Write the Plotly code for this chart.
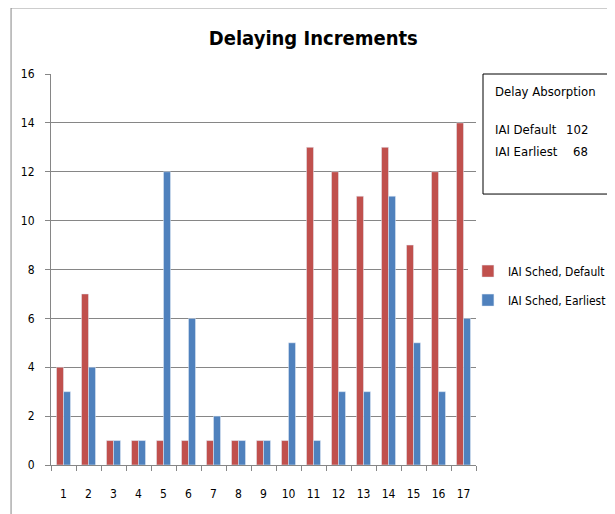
import plotly.graph_objs as go

# chart data
categories = [str(i) for i in range(1, 18)]
sched_default = [4, 7, 1, 1, 1, 1, 1, 1, 1, 1, 13, 12, 11, 13, 9, 12, 14]
sched_earliest = [3, 4, 1, 1, 12, 6, 2, 1, 1, 5, 1, 3, 3, 11, 5, 3, 6]
y_ticks = list(range(0, 17, 2))
total_default = 102
total_earliest = 68

FONT = "DejaVu Sans Condensed, Liberation Sans Narrow, Roboto"

fig = go.Figure()
fig.add_trace(go.Bar(x=categories, y=sched_default, name="IAI Sched, Default",
                     marker_color="#C0504D", legendgroup="d"))
fig.add_trace(go.Bar(x=categories, y=sched_earliest, name="IAI Sched, Earliest",
                     marker_color="#4F81BD", legendgroup="e"))

# page body has an 8px margin, so the figure is sized 607x506
fig.update_layout(
    width=607, height=506,
    margin=dict(l=43, r=139, t=66, b=49, autoexpand=False),
    paper_bgcolor="white", plot_bgcolor="white",
    font=dict(family=FONT, size=12, color="black"),
    title=dict(text="<b>Delaying Increments</b>", x=0.503, xanchor="center",
               y=0.9407, yanchor="middle", font=dict(size=20, family=FONT)),
    barmode="group", bargap=0.44, bargroupgap=0,
    showlegend=True,
    legend=dict(x=0.981, y=0.533, xanchor="left", yanchor="top",
                font=dict(size=12), tracegroupgap=10, itemwidth=30),
)
fig.update_xaxes(showline=True, linecolor="#868686", ticks="outside",
                 tickson="boundaries", ticklen=5, tickcolor="#868686",
                 ticklabelstandoff=18, showgrid=False, tickangle=0,
                 automargin=False)
fig.update_yaxes(range=[0, 16], tickvals=y_ticks, showline=True,
                 linecolor="#868686", ticks="outside", ticklen=5,
                 tickcolor="#868686", gridcolor="#868686", gridwidth=1,
                 ticklabelstandoff=8, zeroline=False, automargin=False)

# summary box
fig.add_shape(type="rect", xref="paper", yref="paper", x0=1.0165, x1=1.313,
              y0=0.693, y1=1.0, line=dict(color="black", width=1),
              fillcolor="white")
box_text = [
    ("Delay Absorption", None, 0.9565),
    ("IAI Default", total_default, 0.859),
    ("IAI Earliest", total_earliest, 0.803),
]
for label, val, ypos in box_text:
    fig.add_annotation(xref="paper", yref="paper", x=1.04, y=ypos, xanchor="left",
                       yanchor="middle", showarrow=False, text=label,
                       font=dict(size=13))
    if val is not None:
        fig.add_annotation(xref="paper", yref="paper", x=1.268, y=ypos,
                           xanchor="right", yanchor="middle", showarrow=False,
                           text=str(val), font=dict(size=13))

# outer frame lines
fig.add_shape(type="line", xref="paper", yref="paper", x0=-0.094, x1=-0.094,
              y0=-0.13, y1=1.169, line=dict(color="#868686", width=1))
fig.add_shape(type="line", xref="paper", yref="paper", x0=-0.094, x1=1.33,
              y0=1.169, y1=1.169, line=dict(color="#868686", width=1))

fig.write_html("out.html")
